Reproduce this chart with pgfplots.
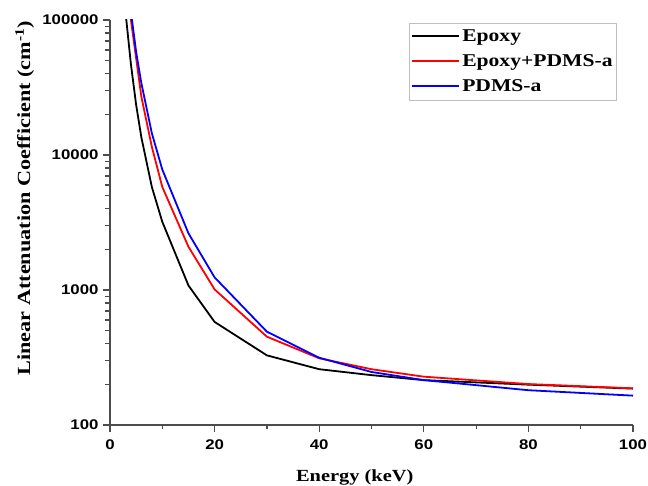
\documentclass[border=0pt]{standalone}
\usepackage{fontspec}
\setmainfont[FakeStretch=1.2]{Liberation Serif}
\newfontfamily\arialf[FakeStretch=1.2]{Liberation Sans}
\usepackage{pgfplots}
\pgfplotsset{compat=1.18}

% energy (keV) vs linear attenuation coefficient (1/cm)
\pgfplotstableread{
E mu
3 111000
4 47000
5 23500
6 13500
8 5800
10 3200
15 1080
20 580
30 328
40 259
50 234
60 215
80 199
100 186
}\epoxy
\pgfplotstableread{
E mu
3 240000
4 100000
5 52000
6 27000
8 11500
10 5800
15 2090
20 1010
30 451
40 312
50 259
60 228
80 201
100 187
}\mixed
\pgfplotstableread{
E mu
3 270000
4 115000
5 58000
6 34000
8 14500
10 7800
15 2630
20 1240
30 491
40 315
50 247
60 215
80 181
100 165
}\pdms

\begin{document}
\begin{tikzpicture}
\begin{axis}[
    scale only axis,
    width=523pt, height=405pt,
    ymode=log,
    xmin=0, xmax=100, ymin=100, ymax=100000,
    axis x line*=bottom, axis y line*=left,
    axis line style={draw=black!70, line width=1.3pt, -},
    xtick={0,20,...,100}, minor xtick={10,30,50,70,90},
    xticklabels={0,20,40,60,80,100},
    ytick={100,1000,10000,100000},
    yticklabels={100,1000,10000,100000},
    tick align=outside,
    tick style={draw=black!70, line width=1.2pt},
    major tick length=7pt, minor tick length=4.5pt,
    ticklabel style={font=\arialf\bfseries\fontsize{14}{16}\selectfont},
    xticklabel style={yshift=-4pt},
    yticklabel style={xshift=-1pt},
    xlabel={Energy (keV)},
    ylabel={Linear Attenuation Coefficient (cm\textsuperscript{-1})},
    label style={font=\bfseries\fontsize{17}{20}\selectfont},
    xlabel style={at={(axis description cs:0.468,-0.102)}, anchor=north},
    ylabel style={at={(axis description cs:-0.163,0.56)}, anchor=center,
        font=\bfseries\fontsize{18.5}{20}\selectfont},
    legend style={at={(0.969,0.993)}, anchor=north east, draw=black!25,
        font=\bfseries\fontsize{18}{20}\selectfont, row sep=7.5pt,
        inner xsep=2pt, inner ysep=5pt},
    legend cell align=left,
    legend image code/.code={%
        \draw[#1, line width=2pt] (0pt,0.5pt) -- (47pt,0.5pt);},
]
\addplot[black, line width=1.8pt] table[x=E, y=mu] {\epoxy};
\addlegendentry{Epoxy}
\addplot[red, line width=1.8pt] table[x=E, y=mu] {\mixed};
\addlegendentry{Epoxy+PDMS-a}
\addplot[blue, line width=1.8pt] table[x=E, y=mu] {\pdms};
\addlegendentry{PDMS-a}
\end{axis}
\pgfresetboundingbox
\useasboundingbox ([xshift=-110pt, yshift=-60pt]current axis.south west)
    rectangle ([xshift=15pt, yshift=20pt]current axis.north east);
\end{tikzpicture}
\end{document}
